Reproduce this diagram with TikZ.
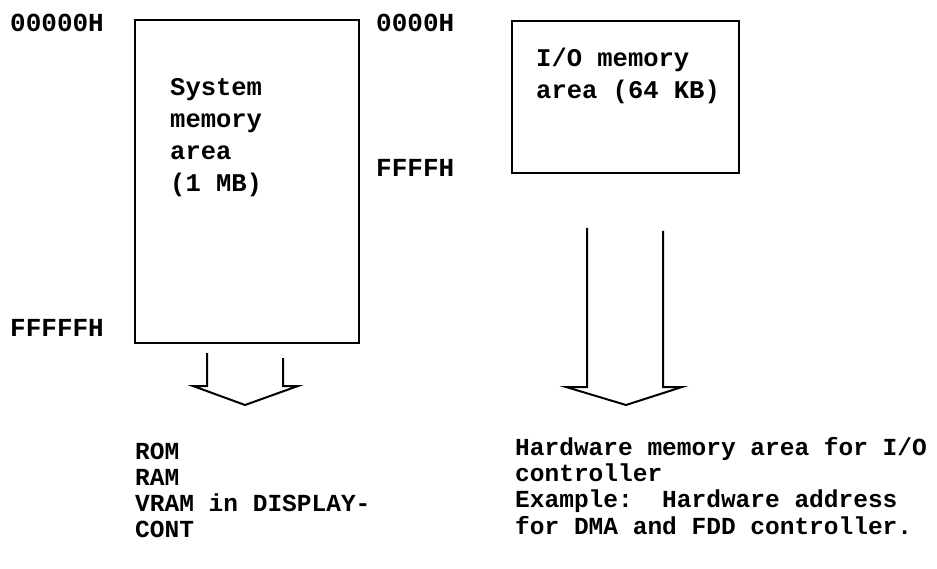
\documentclass[tikz,border=0pt]{standalone}
\usepackage{fontspec}
\setmonofont{Liberation Mono}
\begin{document}
\begin{tikzpicture}[x=1pt,y=-1pt,
  txt/.style={font=\ttfamily\bfseries\fontsize{25}{27}\selectfont, inner sep=0pt, anchor=base west, align=left},
  mem/.style={draw, line width=2pt, inner sep=0pt},
  blockarrow/.style={line width=2pt, line join=miter}]
\useasboundingbox (0,0) rectangle (937,569);
% boxes
\node[mem, minimum width=224, minimum height=323, anchor=north west] (sys) at (134,19) {};
\node[mem, minimum width=227, minimum height=152, anchor=north west] (io) at (511,20) {};
% box texts (anchor = baseline of last line)
\node[txt, font=\ttfamily\bfseries\fontsize{25.5}{32.3}\selectfont] (systxt) at (170,192) {System\\memory\\area\\(1 MB)};
\node[txt, font=\ttfamily\bfseries\fontsize{25.5}{32}\selectfont] (iotxt) at (536,99) {I/O memory\\area (64 KB)};
% address labels
\node[txt, font=\ttfamily\bfseries\fontsize{26}{27}\selectfont] (a0) at (10,32) {00000H};
\node[txt, font=\ttfamily\bfseries\fontsize{26}{27}\selectfont] (a1) at (10,337) {FFFFFH};
\node[txt, font=\ttfamily\bfseries\fontsize{26}{27}\selectfont] (b0) at (376,32) {0000H};
\node[txt, font=\ttfamily\bfseries\fontsize{26}{27}\selectfont] (b1) at (376,177) {FFFFH};
% block arrows below the boxes
\draw[blockarrow] (207,353) -- (207,386) -- (193,386) -- (245,405) -- (298,386) -- (283,386) -- (283,358);
\draw[blockarrow] (587,228) -- (587,387) -- (566,387) -- (626,405) -- (682,387) -- (663,387) -- (663,231);
% bottom texts (anchor = baseline of last line)
\node[txt, font=\ttfamily\bfseries\fontsize{24.5}{25.7}\selectfont] (systgt) at (135,537) {ROM\\RAM\\VRAM in DISPLAY-\\CONT};
\node[txt, font=\ttfamily\bfseries\fontsize{24.5}{26.3}\selectfont] (iotgt) at (515,534) {Hardware memory area for I/O\\controller\\Example:\ \ Hardware address\\for DMA and FDD controller.};
\end{tikzpicture}
\end{document}
